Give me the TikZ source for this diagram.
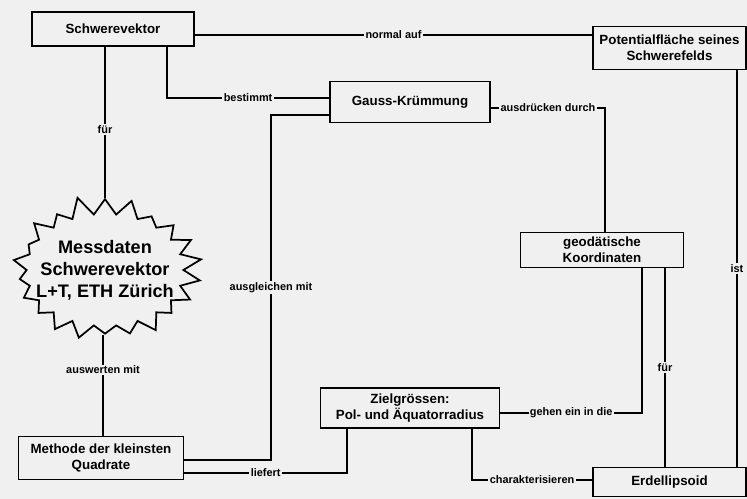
\documentclass[tikz,border=0pt]{standalone}
\usepackage{fontspec}
\setmainfont{Liberation Sans}
\usetikzlibrary{shapes.symbols,positioning}
\definecolor{paper}{gray}{0.94}

\def\px{0.75pt}

\begin{document}
\begin{tikzpicture}[
    x=0.75pt, y=-0.75pt,
    line width=1.3pt,
    box/.style={draw,rectangle,fill=paper,line width=1.3pt,align=center,
        inner sep=1pt,font=\bfseries\fontsize{10}{12}\selectfont},
    lbl/.style={fill=paper,inner sep=1pt,
        font=\bfseries\fontsize{8.2}{9}\selectfont},
    ]

    %paper
    \fill[paper] (0,0) rectangle (747,499);
    \useasboundingbox (0,0) rectangle (747,499);

    %Begriffe
    \node[box,minimum width=162*\px,minimum height=34*\px] (sv) at (113,29) {Schwerevektor};
    \node[box,minimum width=153*\px,minimum height=43*\px] (pot) at (669.5,48) {Potentialfläche seines\\Schwerefelds};
    \node[box,minimum width=160*\px,minimum height=41*\px] (gauss) at (410,102) {Gauss-Krümmung};
    \node[box,minimum width=163*\px,minimum height=35*\px] (geo) at (602,250) {geodätische\\Koordinaten};
    \node[box,minimum width=165*\px,minimum height=43*\px] (meth) at (101,458) {Methode der kleinsten\\Quadrate};
    \node[box,minimum width=179*\px,minimum height=40*\px] (ziel) at (410,408) {Zielgrössen:\\Pol- und Äquatorradius};
    \node[box,minimum width=153*\px,minimum height=29*\px] (erd) at (669.5,482) {Erdellipsoid};

    %Messdaten
    \node[draw,starburst,fill=paper,starburst points=22,starburst point height=15pt,
        random starburst=11,minimum width=136pt,minimum height=114pt,inner xsep=-10pt,inner ysep=-7pt,
        align=center,font=\bfseries\fontsize{13.6}{16.5}\selectfont] (burst) at (105,270)
        {Messdaten\\Schwerevektor\\L+T, ETH Zürich};

    %Verbindungen
    \draw (sv.east |- 0,35) -- node[lbl]{normal auf} (pot.west |- 0,35);
    \draw (sv.south -| 167,0) |- node[lbl,pos=0.75]{bestimmt} (gauss.west |- 0,98);
    \draw (sv.south -| burst.north) -- node[lbl,pos=0.55]{für} (burst.north);
    \draw (gauss.west |- 0,115) -| node[lbl,pos=0.75]{ausgleichen mit} (271,460) -- (meth.east |- 0,460);
    \draw (gauss.east |- 0,108) -| node[lbl,pos=0.25]{ausdrücken durch} (geo.north -| 605,0);
    \draw (pot.south -| 737,0) -- node[lbl]{ist} (erd.north -| 737,0);
    \draw (geo.south -| 642,0) |- node[lbl,pos=0.75]{gehen ein in die} (ziel.east |- 0,413);
    \draw (geo.south -| 665,0) -- node[lbl]{für} (erd.north -| 665,0);
    \draw (burst.south -| 103,0) -- node[lbl,pos=0.35]{auswerten mit} (meth.north -| 103,0);
    \draw (meth.east |- 0,473) -| node[lbl,pos=0.25]{liefert} (ziel.south -| 347,0);
    \draw (ziel.south -| 472,0) |- node[lbl,pos=0.75]{charakterisieren} (erd.west |- 0,480);

\end{tikzpicture}
\end{document}
